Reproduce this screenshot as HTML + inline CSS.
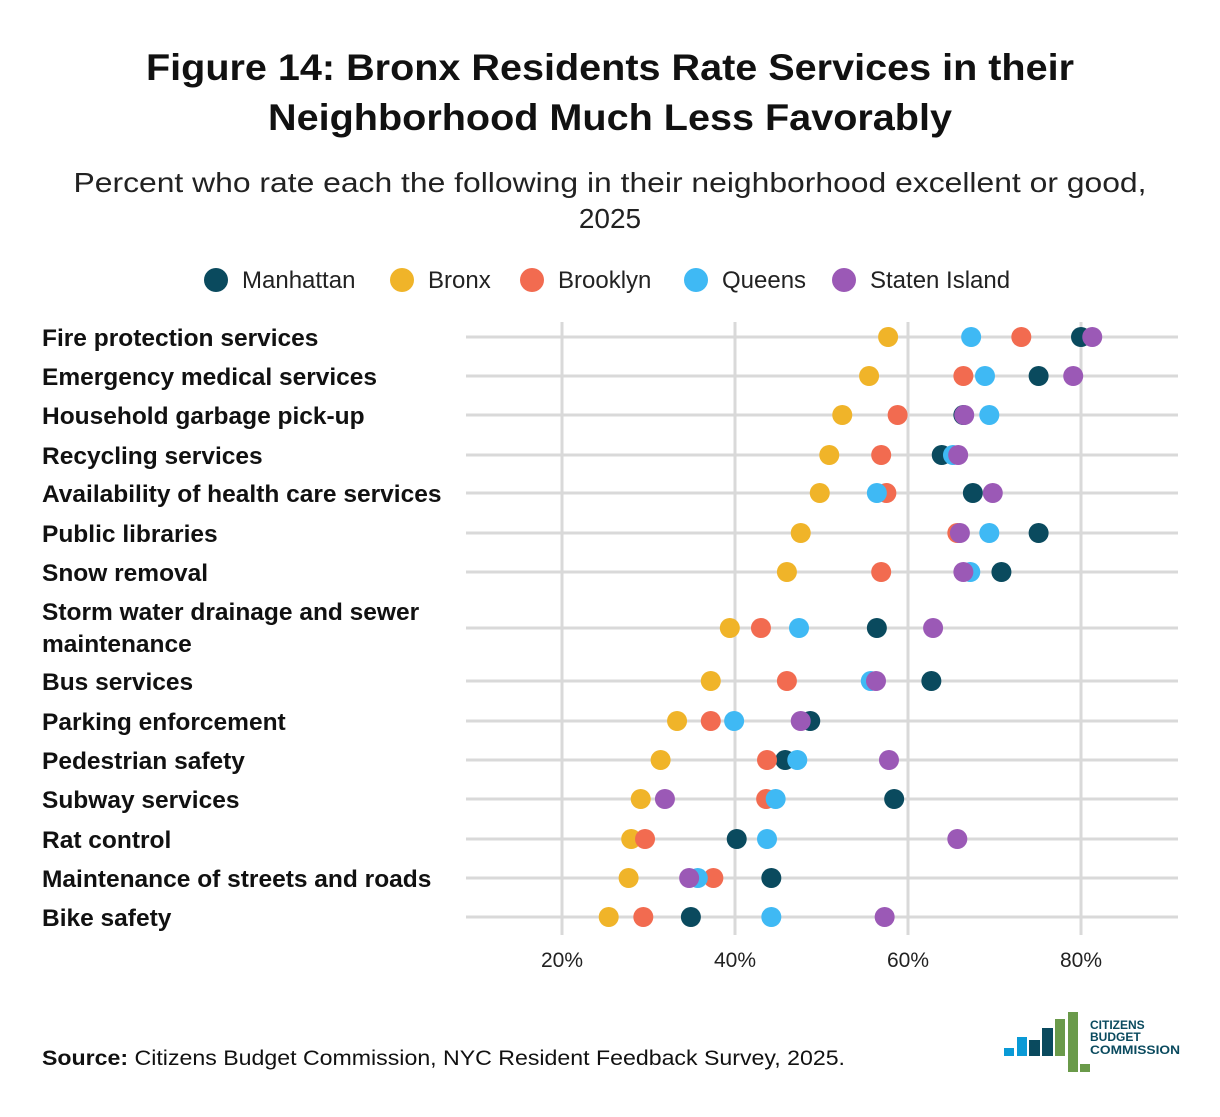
<!DOCTYPE html>
<html><head><meta charset="utf-8"><style>
body{margin:0;background:#fff;font-family:"Liberation Sans",sans-serif;}
svg text{font-family:"Liberation Sans",sans-serif;}
</style></head><body>
<svg id="chart" width="1220" height="1112" viewBox="0 0 1220 1112">
<text x="610" y="80" text-anchor="middle" font-size="37" font-weight="bold" fill="#111" textLength="928" lengthAdjust="spacingAndGlyphs">Figure 14: Bronx Residents Rate Services in their</text>
<text x="610" y="130" text-anchor="middle" font-size="37" font-weight="bold" fill="#111" textLength="684" lengthAdjust="spacingAndGlyphs">Neighborhood Much Less Favorably</text>
<text x="610" y="192" text-anchor="middle" font-size="28" fill="#222" textLength="1073" lengthAdjust="spacingAndGlyphs">Percent who rate each the following in their neighborhood excellent or good,</text>
<text x="610" y="228" text-anchor="middle" font-size="28" fill="#222">2025</text>
<g id="legend"></g>
<g id="grid"></g>
<g id="labels"></g>
<g id="dots"></g>
<text x="42" y="1065" font-size="21" fill="#111" textLength="803" lengthAdjust="spacingAndGlyphs"><tspan font-weight="bold">Source:</tspan> Citizens Budget Commission, NYC Resident Feedback Survey, 2025.</text>
<g>
<rect x="1004" y="1048" width="10" height="8" fill="#0a9ad6"/>
<rect x="1017" y="1037" width="10" height="19" fill="#0a9ad6"/>
<rect x="1029" y="1040" width="11" height="16" fill="#0a4a5e"/>
<rect x="1042" y="1028" width="11" height="28" fill="#0a4a5e"/>
<rect x="1055" y="1019" width="10" height="37" fill="#6a9a4a"/>
<rect x="1068" y="1012" width="10" height="60" fill="#6a9a4a"/>
<rect x="1080" y="1064" width="10" height="8" fill="#6a9a4a"/>
<text x="1090" y="1029" font-size="12" font-weight="bold" fill="#0a4a5e">CITIZENS</text>
<text x="1090" y="1041" font-size="12" font-weight="bold" fill="#0a4a5e">BUDGET</text>
<text x="1090" y="1054" font-size="12" font-weight="bold" fill="#0a4a5e" textLength="90" lengthAdjust="spacingAndGlyphs">COMMISSION</text>
</g>
</svg>
<script>
const categories=["Fire protection services","Emergency medical services","Household garbage pick-up","Recycling services","Availability of health care services","Public libraries","Snow removal","Storm water drainage and sewer maintenance","Bus services","Parking enforcement","Pedestrian safety","Subway services","Rat control","Maintenance of streets and roads","Bike safety"];
const seriesNames=["Manhattan","Bronx","Brooklyn","Queens","Staten Island"];
const manhattan=[80,75.1,66.4,63.9,67.5,75.1,70.8,56.4,62.7,48.7,45.8,58.4,40.2,44.2,34.9];
const bronx=[57.7,55.5,52.4,50.9,49.8,47.6,46,39.4,37.2,33.3,31.4,29.1,28,27.7,25.4];
const brooklyn=[73.1,66.4,58.8,56.9,57.5,65.7,56.9,43,46,37.2,43.7,43.6,29.6,37.5,29.4];
const queens=[67.3,68.9,69.4,65.2,56.4,69.4,67.2,47.4,55.7,39.9,47.2,44.7,43.7,35.7,44.2];
const statenIsland=[81.3,79.1,66.5,65.8,69.8,66,66.4,62.9,56.3,47.6,57.8,31.9,65.7,34.7,57.3];
const xTicks=[20,40,60,80];
const colors=["#0a4a5e","#f0b429","#f26b50","#3fb9f4","#9b59b6"];
const NS="http://www.w3.org/2000/svg";
const xScale=v=>389+v*8.65;
const rowY=[337,376,415,455,493,533,572,628,681,721,760,799,839,878,917];
const yScale=i=>rowY[i];
function mk(tag,attrs,parent){const e=document.createElementNS(NS,tag);for(const k in attrs)e.setAttribute(k,attrs[k]);parent.appendChild(e);return e;}
const grid=document.getElementById('grid'),labels=document.getElementById('labels'),dots=document.getElementById('dots'),legend=document.getElementById('legend');
xTicks.forEach(t=>{
 const l=mk('line',{x1:xScale(t),x2:xScale(t),y1:322,y2:935,stroke:'#d9d9d9','stroke-width':3},grid);
 
 
 const tx=mk('text',{x:xScale(t),y:967,'text-anchor':'middle','font-size':21,fill:'#222'},labels);
 tx.textContent=t+'%';
 
 
});
categories.forEach((c,i)=>{
 const l=mk('line',{x1:466,x2:1178,y1:yScale(i),y2:yScale(i),stroke:'#d9d9d9','stroke-width':3},grid);
 
 
 const t=mk('text',{x:42,'font-size':24.5,'font-weight':'bold',fill:'#111'},labels);
 
 
 if(c.startsWith("Storm")){t.setAttribute('y',620);t.textContent="Storm water drainage and sewer";
  const t2=mk('text',{x:42,y:652,'font-size':24.5,'font-weight':'bold',fill:'#111'},labels);t2.textContent="maintenance";
  
  
 } else {t.setAttribute('y',yScale(i)+9);t.textContent=c;}
});
const all=[manhattan,bronx,brooklyn,queens,statenIsland];
all.forEach((s,si)=>s.forEach((v,i)=>{
 const d=mk('circle',{cx:xScale(v),cy:yScale(i),r:10,fill:colors[si]},dots);
 
 
}));
const lx=[216,402,532,696,844];
seriesNames.forEach((n,i)=>{
 const c=mk('circle',{cx:lx[i],cy:280,r:12,fill:colors[i]},legend);
 
 
 const t=mk('text',{x:lx[i]+26,y:288,'font-size':24,fill:'#222'},legend);
 t.textContent=n;
 
 
});
</script>
</body></html>
